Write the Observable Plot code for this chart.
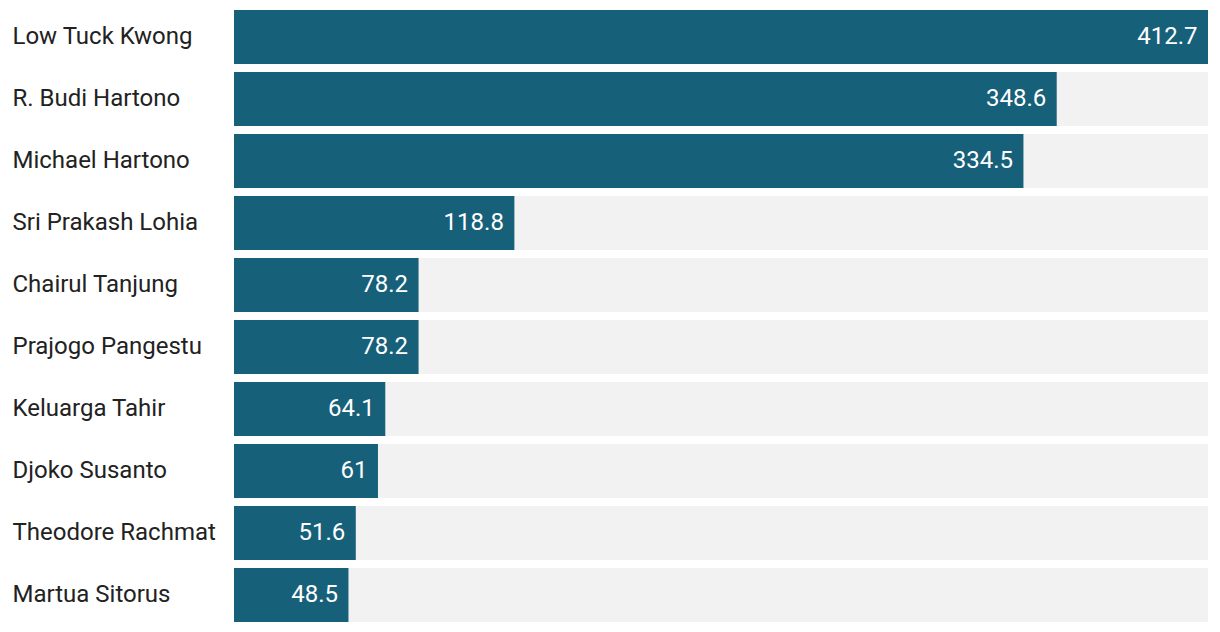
<!DOCTYPE html>
<html>
<head>
<meta charset="utf-8">
<script src="https://cdn.jsdelivr.net/npm/d3@7"></script>
<script src="https://cdn.jsdelivr.net/npm/@observablehq/plot@0.6"></script>
<style>
  html, body { margin: 0; padding: 0; background: #fff; }
  svg { font-family: Roboto, sans-serif; }
</style>
</head>
<body>
<div id="chart"></div>
<script>
const names = ["Low Tuck Kwong", "R. Budi Hartono", "Michael Hartono", "Sri Prakash Lohia", "Chairul Tanjung", "Prajogo Pangestu", "Keluarga Tahir", "Djoko Susanto", "Theodore Rachmat", "Martua Sitorus"];
const values = [412.7, 348.6, 334.5, 118.8, 78.2, 78.2, 64.1, 61, 51.6, 48.5];
const labels = ["412.7", "348.6", "334.5", "118.8", "78.2", "78.2", "64.1", "61", "51.6", "48.5"];

const data = names.map((n, i) => ({name: n, value: values[i], label: labels[i]}));
const maxV = d3.max(values);

const chart = Plot.plot({
  width: 1220,
  height: 632,
  marginLeft: 234,
  marginRight: 12,
  marginTop: 10,
  marginBottom: 10,
  style: {fontFamily: "Roboto, sans-serif", background: "#fff"},
  x: {domain: [0, maxV], axis: null},
  y: {domain: names, paddingInner: 0.13, paddingOuter: 0, axis: null},
  marks: [
    Plot.barX(data, {y: "name", x: () => maxV, fill: "#f2f2f2"}),
    Plot.barX(data, {y: "name", x: "value", fill: "#17607a"}),
    Plot.text(data, {y: "name", x: "value", text: "label", textAnchor: "end", dx: -11, dy: -1, fill: "#fff", fontSize: 24}),
    Plot.text(data, {y: "name", text: "name", frameAnchor: "left", textAnchor: "start", dx: -222, dy: -1, fill: "#222", fontSize: 24})
  ]
});
document.getElementById("chart").appendChild(chart);
</script>
</body>
</html>
